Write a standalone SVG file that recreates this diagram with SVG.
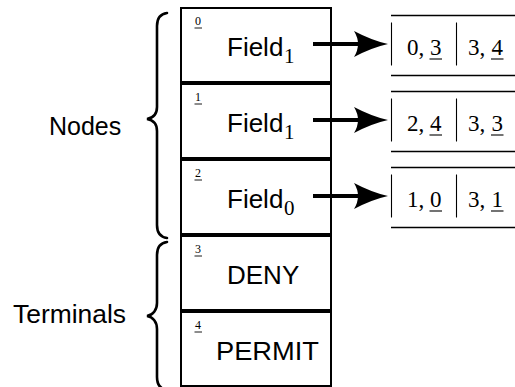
<svg xmlns="http://www.w3.org/2000/svg" width="515" height="387" viewBox="0 0 515 387">
<defs>
<style>
.box{fill:#fff;stroke:#000;stroke-width:2}
.idx{font-family:"Liberation Serif",serif;font-size:12px;fill:#000}
.lbl{font-family:"Liberation Sans",Arial,sans-serif;font-size:26px;fill:#000}
.sub{font-family:"Liberation Serif",serif;font-size:21px;fill:#000}
.side{font-family:"Liberation Sans",Arial,sans-serif;font-size:25px;fill:#000}
.cell{font-family:"Liberation Serif",serif;font-size:23px;fill:#000}
.ul{stroke:#000;stroke-width:0.9}
.ul2{stroke:#000;stroke-width:1.1}
.hl{stroke:#000;stroke-width:1.4}
.vl{stroke:#000;stroke-width:1.1}
.brace{fill:none;stroke:#000;stroke-width:2.6;stroke-linecap:round}
.conn{stroke:#000;stroke-width:4;marker-end:url(#head)}
</style>
<marker id="head" viewBox="0 0 34 26" refX="16" refY="13" markerWidth="34" markerHeight="26" markerUnits="userSpaceOnUse" orient="auto">
<path d="M34,13 Q18,9.5 0,0 Q8,13 0,26 Q18,16.5 34,13 Z" fill="#000"/>
</marker>
</defs>
<rect width="515" height="387" fill="#fff"/>

<g id="braces">
<path class="brace" d="M167,13 C160,14 157,18 157,26 L157,107 C157,114 153,118 147,119 C153,120 157,124 157,131 L157,225 C157,233 160,237 167,238"/>
<path class="brace" d="M167,242 C160,243 157,247 157,255 L157,303 C157,310 153,315 147,316 C153,317 157,322 157,329 L157,377 C157,385 160,389 167,390"/>
</g>
<g id="label-nodes"><text class="side" x="49" y="135">Nodes</text></g>
<g id="label-terminals"><text class="side" x="13" y="323" textLength="113" lengthAdjust="spacingAndGlyphs">Terminals</text></g>

<g id="node0">
<rect class="box" x="181" y="8" width="150" height="74"/>
<text class="idx" x="195" y="25">0</text><line class="ul" x1="194.5" y1="28" x2="202" y2="28"/>
<text class="lbl" x="227" y="56">Field</text><text class="sub" x="284" y="62.5">1</text>
</g>
<g id="node1">
<rect class="box" x="181" y="84" width="150" height="74"/>
<text class="idx" x="195" y="101">1</text><line class="ul" x1="194.5" y1="104" x2="202" y2="104"/>
<text class="lbl" x="227" y="132">Field</text><text class="sub" x="284" y="138.5">1</text>
</g>
<g id="node2">
<rect class="box" x="181" y="160" width="150" height="74"/>
<text class="idx" x="195" y="177">2</text><line class="ul" x1="194.5" y1="180" x2="202" y2="180"/>
<text class="lbl" x="227" y="208">Field</text><text class="sub" x="284" y="214.5">0</text>
</g>
<g id="node3">
<rect class="box" x="181" y="236" width="150" height="74"/>
<text class="idx" x="195" y="253">3</text><line class="ul" x1="194.5" y1="256" x2="202" y2="256"/>
<text class="lbl" x="227" y="284">DENY</text>
</g>
<g id="node4">
<rect class="box" x="181" y="312" width="150" height="74"/>
<text class="idx" x="195" y="329">4</text><line class="ul" x1="194.5" y1="332" x2="202" y2="332"/>
<text class="lbl" x="216" y="360" textLength="103" lengthAdjust="spacingAndGlyphs">PERMIT</text>
</g>

<g id="table0">
<line class="hl" x1="391" y1="15.5" x2="515" y2="15.5"/>
<line class="hl" x1="391" y1="75.5" x2="515" y2="75.5"/>
<line class="vl" x1="391.5" y1="22.5" x2="391.5" y2="65.5"/>
<line class="vl" x1="456.5" y1="22.5" x2="456.5" y2="65.5"/>
<text class="cell" x="407" y="55">0,</text><text class="cell" x="430" y="55">3</text><line class="ul2" x1="429.5" y1="59" x2="442" y2="59"/>
<text class="cell" x="468" y="55">3,</text><text class="cell" x="491.5" y="55">4</text><line class="ul2" x1="491" y1="59" x2="503.5" y2="59"/>
</g>
<g id="table1">
<line class="hl" x1="391" y1="91.5" x2="515" y2="91.5"/>
<line class="hl" x1="391" y1="151.5" x2="515" y2="151.5"/>
<line class="vl" x1="391.5" y1="98.5" x2="391.5" y2="141.5"/>
<line class="vl" x1="456.5" y1="98.5" x2="456.5" y2="141.5"/>
<text class="cell" x="407" y="131">2,</text><text class="cell" x="430" y="131">4</text><line class="ul2" x1="429.5" y1="135" x2="442" y2="135"/>
<text class="cell" x="468" y="131">3,</text><text class="cell" x="491.5" y="131">3</text><line class="ul2" x1="491" y1="135" x2="503.5" y2="135"/>
</g>
<g id="table2">
<line class="hl" x1="391" y1="167.5" x2="515" y2="167.5"/>
<line class="hl" x1="391" y1="227.5" x2="515" y2="227.5"/>
<line class="vl" x1="391.5" y1="174.5" x2="391.5" y2="217.5"/>
<line class="vl" x1="456.5" y1="174.5" x2="456.5" y2="217.5"/>
<text class="cell" x="407" y="207">1,</text><text class="cell" x="430" y="207">0</text><line class="ul2" x1="429.5" y1="211" x2="442" y2="211"/>
<text class="cell" x="468" y="207">3,</text><text class="cell" x="491.5" y="207">1</text><line class="ul2" x1="491" y1="211" x2="503.5" y2="211"/>
</g>

<g id="connectors">
<line class="conn" x1="313" y1="44" x2="370" y2="44"/>
<line class="conn" x1="313" y1="120" x2="370" y2="120"/>
<line class="conn" x1="313" y1="196" x2="370" y2="196"/>
</g>
</svg>
